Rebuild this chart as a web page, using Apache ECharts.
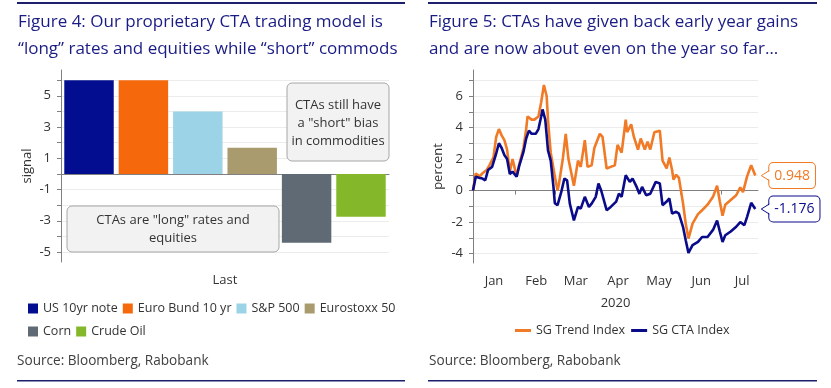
<!DOCTYPE html>
<html>
<head>
<meta charset="utf-8">
<script src="https://cdn.jsdelivr.net/npm/echarts@6/dist/echarts.min.js"></script>
<style>
html,body{margin:0;padding:0;background:#fff;}
#c{width:831px;height:388px;}
</style>
</head>
<body>
<div id="c"></div>
<script>
// ---------- Figure 4 data ----------
const barCategories = ['Last'];
const barSeriesNames = ['US 10yr note', 'Euro Bund 10 yr', 'S&P 500', 'Eurostoxx 50', 'Corn', 'Crude Oil'];
const barValues = [6.0, 6.0, 4.0, 1.67, -4.4, -2.75];
const signalTicks = [-5, -4, -3, -2, -1, 0, 1, 2, 3, 4, 5, 6];
const signalLabels = [-5, -3, -1, 1, 3, 5];

// ---------- Figure 5 data ----------
const monthLabels = ['Jan', 'Feb', 'Mar', 'Apr', 'May', 'Jun', 'Jul'];
const percentTicks = [-4, -3, -2, -1, 0, 1, 2, 3, 4, 5, 6, 7];
const percentLabels = [-4, -2, 0, 2, 4, 6];
const trendDates = ['2020-01-01','2020-01-03','2020-01-06','2020-01-08','2020-01-11','2020-01-13','2020-01-16','2020-01-18','2020-01-20','2020-01-22',
  '2020-01-24','2020-01-26','2020-01-28','2020-01-30','2020-01-31','2020-02-02','2020-02-04','2020-02-07','2020-02-09','2020-02-10',
  '2020-02-13','2020-02-15','2020-02-18','2020-02-20','2020-02-22','2020-02-24','2020-02-25','2020-02-26','2020-02-27','2020-03-01',
  '2020-03-03','2020-03-04','2020-03-07','2020-03-09','2020-03-11','2020-03-12','2020-03-15','2020-03-18','2020-03-20','2020-03-23',
  '2020-03-25','2020-03-28','2020-03-30','2020-03-31','2020-04-03','2020-04-05','2020-04-08','2020-04-11','2020-04-14','2020-04-16',
  '2020-04-19','2020-04-22','2020-04-23','2020-04-26','2020-04-28','2020-05-01','2020-05-03','2020-05-06','2020-05-08','2020-05-10',
  '2020-05-13','2020-05-17','2020-05-19','2020-05-22','2020-05-24','2020-05-26','2020-05-27','2020-05-29','2020-05-31','2020-06-03',
  '2020-06-05','2020-06-07','2020-06-10','2020-06-14','2020-06-17','2020-06-21','2020-06-25','2020-06-28','2020-06-30','2020-07-02',
  '2020-07-04','2020-07-08','2020-07-12','2020-07-15','2020-07-17','2020-07-20','2020-07-23','2020-07-26'];
const trendValues = [0, 1.08, 0.9, 1.1, 1.3, 1.6, 2.1, 3.4, 3.9, 3.5,
  3.2, 2.6, 1.2, 2.0, 1.9, 0.9, 1.7, 2.7, 3.9, 4.7,
  4.5, 4.5, 4.7, 5.6, 6.7, 6.0, 4.5, 3.4, 2.4, 0.9,
  0.0, 0.4, 2.1, 3.6, 2.0, 1.9, 0.3, 1.9, 1.5, 3.2,
  1.5, 1.6, 2.7, 2.6, 3.6, 3.4, 1.4, 1.5, 1.6, 2.9,
  2.4, 4.5, 3.7, 4.2, 3.4, 2.6, 3.3, 2.6, 3.1, 2.6,
  3.7, 3.8, 1.9, 1.4, 2.1, 1.3, 0.7, 1.0, 0.8, -0.8,
  -2.1, -3.05, -2.1, -1.5, -1.25, -0.9, -0.4, 0.3, -0.7, -1.6,
  -0.9, -0.6, -0.3, 0.2, -0.1, 0.9, 1.6, 0.948];
const ctaDates = ['2020-01-01','2020-01-03','2020-01-06','2020-01-08','2020-01-10','2020-01-12','2020-01-15','2020-01-18','2020-01-20','2020-01-22',
  '2020-01-24','2020-01-26','2020-01-28','2020-01-30','2020-02-02','2020-02-04','2020-02-07','2020-02-09','2020-02-11','2020-02-13',
  '2020-02-16','2020-02-18','2020-02-20','2020-02-21','2020-02-23','2020-02-25','2020-02-27','2020-02-29','2020-03-01','2020-03-03',
  '2020-03-06','2020-03-08','2020-03-10','2020-03-12','2020-03-15','2020-03-18','2020-03-20','2020-03-23','2020-03-26','2020-03-28',
  '2020-03-31','2020-04-02','2020-04-04','2020-04-08','2020-04-11','2020-04-15','2020-04-17','2020-04-19','2020-04-22','2020-04-25',
  '2020-04-27','2020-04-30','2020-05-02','2020-05-04','2020-05-07','2020-05-10','2020-05-14','2020-05-17','2020-05-19','2020-05-22',
  '2020-05-24','2020-05-26','2020-05-29','2020-05-31','2020-06-03','2020-06-05','2020-06-07','2020-06-10','2020-06-14','2020-06-17',
  '2020-06-21','2020-06-25','2020-06-28','2020-06-30','2020-07-02','2020-07-04','2020-07-08','2020-07-12','2020-07-15','2020-07-18',
  '2020-07-20','2020-07-23','2020-07-26'];
const ctaValues = [0, 0.87, 0.8, 0.76, 0.65, 1.3, 1.5, 2.35, 3.0, 2.7,
  2.25, 2.0, 1.05, 1.2, 0.87, 1.6, 2.45, 3.3, 3.8, 3.6,
  3.6, 3.9, 4.7, 5.15, 4.5, 2.55, 1.9, 0.23, -0.8, -0.93,
  0.0, 0.76, 0.65, -0.83, -1.9, -1.04, -1.15, -0.4, -1.04, -0.83,
  -0.4, 0.45, 0, -1.25, -1.04, -0.7, -0.2, -0.4, 0.97, 0.55,
  0.76, 0.23, -0.2, 0.23, -0.3, -0.2, 0.55, 0.45, -0.93, -0.7,
  -0.5, -1.46, -1.35, -1.46, -2.3, -3.15, -3.96, -3.47, -3.26, -2.95,
  -2.95, -2.5, -1.9, -2.6, -3.26, -2.84, -2.6, -2.3, -2.0, -2.2,
  -1.67, -0.78, -1.176];

// ---------- styles ----------
const FONT = 'Open Sans';
const NAVY_T = '#1a1c84';
const barColors = ['#020e8f', '#f5680c', '#9cd3e6', '#a99b6e', '#5f6a74', '#84b82a'];
const trendColor = '#f07a26';
const ctaColor = '#0a0b8a';
const axisColor = '#808080';
const gridColor = '#ececec';
const labelColor = '#333333';
const DAY = 86400000;

const chart = echarts.init(document.getElementById('c'), null, {renderer: 'canvas'});

const barSeries = barSeriesNames.map((name, i) => ({
  type: 'bar', name: name, xAxisIndex: 0, yAxisIndex: 0,
  data: [barValues[i]],
  itemStyle: {color: barColors[i]},
  barGap: '10%', barCategoryGap: '2%'
}));

function toPairs(dates, vals) { return dates.map((d, i) => [d, vals[i]]); }

const legendText = {color: labelColor, fontSize: 12.5, fontFamily: FONT};

const option = {
  animation: false,
  textStyle: {fontFamily: FONT},
  grid: [
    {left: 61, top: 70, width: 328, height: 192},
    {left: 473, top: 70, width: 285, height: 193}
  ],
  xAxis: [
    {type: 'category', gridIndex: 0, data: barCategories,
      axisLine: {lineStyle: {color: axisColor}}, axisTick: {show: false},
      axisLabel: {color: labelColor, fontSize: 13, margin: 12, fontFamily: FONT}},
    {type: 'time', gridIndex: 1,
      min: new Date(2020, 0, 1).getTime(), max: new Date(2020, 6, 28).getTime(),
      splitNumber: 7, minInterval: 28 * DAY, maxInterval: 31 * DAY,
      axisLine: {lineStyle: {color: axisColor}},
      axisTick: {show: true, length: 4, lineStyle: {color: axisColor}},
      axisLabel: {color: labelColor, fontSize: 13, margin: 12, fontFamily: FONT,
        padding: [0, 0, 0, 42], hideOverlap: false, showMaxLabel: false,
        formatter: v => monthLabels[new Date(v).getMonth()]},
      splitLine: {show: false},
      name: '2020', nameLocation: 'middle', nameGap: 34,
      nameTextStyle: {color: labelColor, fontSize: 13, fontFamily: FONT}}
  ],
  yAxis: [
    {type: 'value', gridIndex: 0, min: -5.64, max: 6.65,
      name: 'signal', nameLocation: 'middle', nameGap: 27,
      nameTextStyle: {color: labelColor, fontSize: 13, fontFamily: FONT},
      axisLine: {show: true, lineStyle: {color: axisColor}},
      axisTick: {show: true, customValues: signalTicks, length: 4, lineStyle: {color: axisColor}},
      axisLabel: {customValues: signalLabels, color: labelColor, fontSize: 13, margin: 10, fontFamily: FONT},
      splitLine: {show: true, lineStyle: {color: gridColor}}},
    {type: 'value', gridIndex: 1, min: -4.6, max: 7.65,
      name: 'percent', nameLocation: 'middle', nameGap: 28,
      nameTextStyle: {color: labelColor, fontSize: 13, fontFamily: FONT},
      axisLine: {show: true, lineStyle: {color: axisColor}},
      axisTick: {show: true, customValues: percentTicks, length: 4, lineStyle: {color: axisColor}},
      axisLabel: {customValues: percentLabels, color: labelColor, fontSize: 13, margin: 10, fontFamily: FONT},
      splitLine: {show: true, lineStyle: {color: gridColor}}}
  ],
  legend: [
    {data: barSeriesNames.slice(0, 4), left: 28, top: 302, padding: 0, icon: 'rect', itemWidth: 10, itemHeight: 10, itemGap: 5,
      textStyle: legendText, selectedMode: false},
    {data: barSeriesNames.slice(4), left: 28, top: 325, padding: 0, icon: 'rect', itemWidth: 10, itemHeight: 10, itemGap: 5,
      textStyle: legendText, selectedMode: false},
    {data: ['SG Trend Index', 'SG CTA Index'], left: 515, top: 324, padding: 0, icon: 'rect', itemWidth: 16, itemHeight: 3, itemGap: 6,
      textStyle: legendText, selectedMode: false}
  ],
  series: barSeries.concat([
    {type: 'line', name: 'SG Trend Index', xAxisIndex: 1, yAxisIndex: 1,
      data: toPairs(trendDates, trendValues), showSymbol: false, symbol: 'none',
      lineStyle: {color: trendColor, width: 2.6}, itemStyle: {color: trendColor}, z: 3,
      endLabel: {show: true, formatter: p => String(p.value[1]), distance: 14,
        color: trendColor, fontSize: 14, fontFamily: FONT, backgroundColor: '#fff',
        borderColor: trendColor, borderWidth: 1, borderRadius: 4, padding: [6, 5, 5, 5]}},
    {type: 'line', name: 'SG CTA Index', xAxisIndex: 1, yAxisIndex: 1,
      data: toPairs(ctaDates, ctaValues), showSymbol: false, symbol: 'none',
      lineStyle: {color: ctaColor, width: 2.6}, itemStyle: {color: ctaColor}, z: 4,
      endLabel: {show: true, formatter: p => String(p.value[1]), distance: 14,
        color: ctaColor, fontSize: 14, fontFamily: FONT, backgroundColor: '#fff',
        borderColor: ctaColor, borderWidth: 1, borderRadius: 4, padding: [6, 5, 5, 5]}}
  ])
};
chart.setOption(option);

// ---------- decoration / annotations ----------
const boxStyle = {fill: '#f2f2f2', stroke: '#a6a6a6', lineWidth: 1};
const annText = {fill: '#333', fontSize: 13, fontFamily: FONT, align: 'center', verticalAlign: 'middle', lineHeight: 18};
const titleStyle = {fill: NAVY_T, fontSize: 17, fontFamily: FONT, verticalAlign: 'middle'};
const srcStyle = {fill: '#404040', fontSize: 13.6, fontFamily: FONT, verticalAlign: 'middle'};
const graphics = [
  {type: 'rect', shape: {x: 17, y: 2, width: 388, height: 2}, style: {fill: '#1b1f6e'}, z: 10},
  {type: 'rect', shape: {x: 428, y: 2, width: 389, height: 2}, style: {fill: '#1b1f6e'}, z: 10},
  {type: 'rect', shape: {x: 17, y: 380, width: 388, height: 1.5}, style: {fill: '#1b1f6e'}, z: 10},
  {type: 'rect', shape: {x: 428, y: 380, width: 389, height: 1.5}, style: {fill: '#1b1f6e'}, z: 10},
  {type: 'text', x: 18, y: 22, style: Object.assign({text: 'Figure 4: Our proprietary CTA trading model is'}, titleStyle)},
  {type: 'text', x: 18, y: 49, style: Object.assign({text: '\u201clong\u201d rates and equities while \u201cshort\u201d commods'}, titleStyle)},
  {type: 'text', x: 429, y: 22, style: Object.assign({text: 'Figure 5: CTAs have given back early year gains'}, titleStyle)},
  {type: 'text', x: 429, y: 49, style: Object.assign({text: 'and are now about even on the year so far\u2026'}, titleStyle)},
  {type: 'text', x: 17, y: 361, style: Object.assign({text: 'Source: Bloomberg, Rabobank'}, srcStyle)},
  {type: 'text', x: 429, y: 361, style: Object.assign({text: 'Source: Bloomberg, Rabobank'}, srcStyle)},
  {type: 'rect', shape: {x: 67, y: 206, width: 212, height: 46, r: 5}, style: boxStyle, z: 20},
  {type: 'text', x: 173, y: 229.5, style: Object.assign({text: 'CTAs are "long" rates and\nequities'}, annText), z: 21},
  {type: 'rect', shape: {x: 287, y: 83, width: 102, height: 78, r: 5}, style: boxStyle, z: 20},
  {type: 'text', x: 338, y: 123, style: Object.assign({text: 'CTAs still have\na "short" bias\nin commodities'}, annText), z: 21}
];

// callout pointers for end labels
[[trendDates, trendValues, trendColor], [ctaDates, ctaValues, ctaColor]].forEach(([d, v, col]) => {
  const n = d.length - 1;
  const p = chart.convertToPixel({xAxisIndex: 1, yAxisIndex: 1}, [d[n], v[n]]);
  if (!p) return;
  const bx = p[0] + 14;
  graphics.push({type: 'polygon', shape: {points: [[bx + 1.5, p[1] - 5], [bx - 8, p[1]], [bx + 1.5, p[1] + 5]]}, style: {fill: '#fff'}, z: 100});
  graphics.push({type: 'polyline', shape: {points: [[bx, p[1] - 5], [bx - 8, p[1]], [bx, p[1] + 5]]}, style: {stroke: col, lineWidth: 1, fill: null}, z: 101});
});
chart.setOption({graphic: graphics});
</script>
</body>
</html>
